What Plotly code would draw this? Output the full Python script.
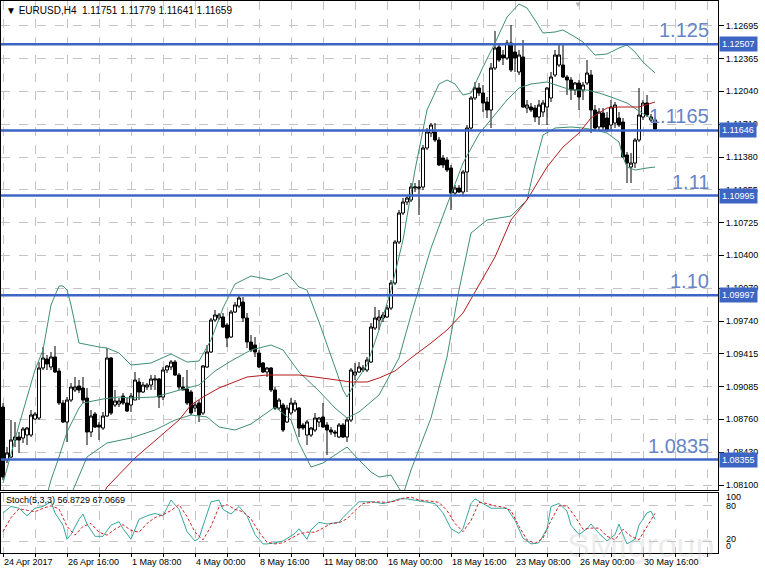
import plotly.graph_objects as go

W, H = 765, 570

# EURUSD H4, bar 0 = 24 Apr 2017 00:00 (bar index used as x)
opens = [
    1.0888, 1.0835, 1.0838, 1.0855, 1.0858, 1.0857, 1.0860, 1.0860, 1.0876, 1.0877,
    1.0927, 1.0936, 1.0928, 1.0938, 1.0924, 1.0892, 1.0873, 1.0895, 1.0905, 1.0909,
    1.0907, 1.0897, 1.0863, 1.0881, 1.0870, 1.0867, 1.0879, 1.0937, 1.0890, 1.0891,
    1.0899, 1.0892, 1.0890, 1.0895, 1.0913, 1.0903, 1.0908, 1.0910, 1.0915, 1.0916,
    1.0898, 1.0925, 1.0928, 1.0933, 1.0920, 1.0908, 1.0906, 1.0903, 1.0887, 1.0892,
    1.0882, 1.0928, 1.0943, 1.0975, 1.0977, 1.0978, 1.0970, 1.0958, 1.0983, 1.0989,
    1.0993, 1.0977, 1.0953, 1.0950, 1.0942, 1.0932, 1.0923, 1.0927, 1.0905, 1.0887,
    1.0890, 1.0873, 1.0882, 1.0885, 1.0887, 1.0870, 1.0860, 1.0860, 1.0865, 1.0873,
    1.0878, 1.0870, 1.0865, 1.0863, 1.0858, 1.0870, 1.0858, 1.0875, 1.0920, 1.0923,
    1.0925, 1.0925, 1.0933, 1.0967, 1.0975, 1.0977, 1.0978, 1.0987, 1.1012, 1.1053,
    1.1082, 1.1093, 1.1095, 1.1107, 1.1108, 1.1108, 1.1147, 1.1162, 1.1163, 1.1155,
    1.1137, 1.1135, 1.1127, 1.1102, 1.1107, 1.1103, 1.1123, 1.1167, 1.1197, 1.1207,
    1.1202, 1.1193, 1.1185, 1.1227, 1.1248, 1.1240, 1.1237, 1.1252, 1.1243, 1.1223,
    1.1238, 1.1187, 1.1188, 1.1187, 1.1178, 1.1183, 1.1188, 1.1197, 1.1220, 1.1230,
    1.1230, 1.1218, 1.1215, 1.1205, 1.1212, 1.1205, 1.1212, 1.1220, 1.1185, 1.1168,
    1.1182, 1.1177, 1.1170, 1.1172, 1.1177, 1.1173, 1.1140, 1.1128, 1.1132, 1.1155,
    1.1178, 1.1192, 1.1175, 1.11751,
]
highs = [
    1.0892, 1.0848, 1.0875, 1.0873, 1.0863, 1.0868, 1.0868, 1.0885, 1.0883, 1.0933,
    1.0948, 1.0940, 1.0943, 1.0949, 1.0927, 1.0895, 1.0898, 1.0912, 1.0918, 1.0915,
    1.0918, 1.0907, 1.0885, 1.0883, 1.0873, 1.0883, 1.0947, 1.0938, 1.0905, 1.0897,
    1.0902, 1.0897, 1.0902, 1.0923, 1.0917, 1.0913, 1.0912, 1.0920, 1.0920, 1.0917,
    1.0928, 1.0930, 1.0935, 1.0935, 1.0922, 1.0918, 1.0925, 1.0905, 1.0893, 1.0895,
    1.0930, 1.0950, 1.0977, 1.0985, 1.0982, 1.0982, 1.0972, 1.0985, 1.0993, 1.0999,
    1.0998, 1.0982, 1.0960, 1.0958, 1.0945, 1.0933, 1.0928, 1.0928, 1.0908, 1.0897,
    1.0892, 1.0890, 1.0897, 1.0895, 1.0888, 1.0872, 1.0875, 1.0868, 1.0882, 1.0878,
    1.0892, 1.0873, 1.0868, 1.0865, 1.0872, 1.0872, 1.0878, 1.0927, 1.0932, 1.0933,
    1.0930, 1.0938, 1.0972, 1.0988, 1.0985, 1.0983, 1.0990, 1.1015, 1.1055, 1.1085,
    1.1097, 1.1100, 1.1112, 1.1112, 1.1115, 1.1150, 1.1167, 1.1172, 1.1172, 1.1158,
    1.1140, 1.1138, 1.1130, 1.1110, 1.1110, 1.1125, 1.1170, 1.1199, 1.1213, 1.1212,
    1.1210, 1.1198, 1.1232, 1.1264, 1.1252, 1.1245, 1.1255, 1.1270, 1.1250, 1.1245,
    1.1255, 1.1195, 1.1192, 1.1190, 1.1195, 1.1195, 1.1208, 1.1223, 1.1245, 1.1252,
    1.1252, 1.1220, 1.1218, 1.1213, 1.1215, 1.1213, 1.1235, 1.1225, 1.1190, 1.1187,
    1.1187, 1.1183, 1.1195, 1.1193, 1.1183, 1.1177, 1.1143, 1.1142, 1.1157, 1.1207,
    1.1195, 1.1200, 1.1181, 1.11779,
]
lows = [
    1.0815, 1.0832, 1.0837, 1.0848, 1.0842, 1.0852, 1.0850, 1.0858, 1.0875, 1.0875,
    1.0925, 1.0925, 1.0925, 1.0922, 1.0890, 1.0872, 1.0853, 1.0893, 1.0903, 1.0902,
    1.0892, 1.0850, 1.0858, 1.0867, 1.0855, 1.0865, 1.0878, 1.0880, 1.0888, 1.0888,
    1.0890, 1.0883, 1.0883, 1.0895, 1.0895, 1.0902, 1.0905, 1.0905, 1.0905, 1.0887,
    1.0895, 1.0922, 1.0925, 1.0919, 1.0905, 1.0905, 1.0890, 1.0880, 1.0883, 1.0873,
    1.0880, 1.0927, 1.0942, 1.0973, 1.0975, 1.0967, 1.0948, 1.0957, 1.0982, 1.0987,
    1.0973, 1.0947, 1.0943, 1.0938, 1.0927, 1.0922, 1.0918, 1.0903, 1.0885, 1.0885,
    1.0863, 1.0872, 1.0880, 1.0883, 1.0858, 1.0865, 1.0850, 1.0858, 1.0863, 1.0868,
    1.0867, 1.0840, 1.0860, 1.0858, 1.0857, 1.0857, 1.0853, 1.0873, 1.0915, 1.0922,
    1.0923, 1.0923, 1.0932, 1.0965, 1.0965, 1.0973, 1.0977, 1.0985, 1.1010, 1.1051,
    1.1080, 1.1090, 1.1093, 1.1103, 1.1080, 1.1105, 1.1145, 1.1158, 1.1153, 1.1129,
    1.1127, 1.1123, 1.1085, 1.1099, 1.1102, 1.1100, 1.1103, 1.1165, 1.1195, 1.1199,
    1.1183, 1.1177, 1.1167, 1.1225, 1.1233, 1.1230, 1.1235, 1.1223, 1.1223, 1.1220,
    1.1187, 1.1182, 1.1183, 1.1173, 1.1170, 1.1178, 1.1170, 1.1193, 1.1218, 1.1228,
    1.1217, 1.1200, 1.1195, 1.1200, 1.1185, 1.1195, 1.1210, 1.1162, 1.1165, 1.1165,
    1.1165, 1.1163, 1.1165, 1.1167, 1.1168, 1.1137, 1.1112, 1.1112, 1.1127, 1.1153,
    1.1175, 1.1178, 1.1173, 1.11641,
]
closes = [
    1.0818, 1.0842, 1.0855, 1.0858, 1.0855, 1.0866, 1.0867, 1.0880, 1.0881, 1.0927,
    1.0937, 1.0931, 1.0938, 1.0923, 1.0892, 1.0873, 1.0895, 1.0908, 1.0908, 1.0905,
    1.0895, 1.0863, 1.0879, 1.0868, 1.0868, 1.0879, 1.0937, 1.0882, 1.0894, 1.0894,
    1.0892, 1.0884, 1.0899, 1.0915, 1.0903, 1.0910, 1.0910, 1.0916, 1.0916, 1.0898,
    1.0925, 1.0929, 1.0933, 1.0920, 1.0908, 1.0905, 1.0892, 1.0882, 1.0890, 1.0880,
    1.0929, 1.0943, 1.0975, 1.0980, 1.0980, 1.0968, 1.0957, 1.0983, 1.0990, 1.0997,
    1.0977, 1.0953, 1.0945, 1.0943, 1.0928, 1.0923, 1.0927, 1.0905, 1.0887, 1.0895,
    1.0865, 1.0887, 1.0892, 1.0892, 1.0867, 1.0867, 1.0873, 1.0867, 1.0877, 1.0877,
    1.0868, 1.0865, 1.0863, 1.0862, 1.0870, 1.0858, 1.0875, 1.0925, 1.0923, 1.0928,
    1.0927, 1.0935, 1.0968, 1.0977, 1.0978, 1.0980, 1.0987, 1.1012, 1.1053, 1.1082,
    1.1093, 1.1097, 1.1108, 1.1108, 1.1107, 1.1147, 1.1163, 1.1170, 1.1155, 1.1130,
    1.1130, 1.1125, 1.1102, 1.1107, 1.1103, 1.1123, 1.1167, 1.1197, 1.1207, 1.1202,
    1.1192, 1.1185, 1.1227, 1.1247, 1.1235, 1.1237, 1.1252, 1.1225, 1.1237, 1.1240,
    1.1188, 1.1190, 1.1185, 1.1178, 1.1190, 1.1192, 1.1207, 1.1218, 1.1240, 1.1240,
    1.1218, 1.1215, 1.1205, 1.1212, 1.1198, 1.1210, 1.1222, 1.1185, 1.1167, 1.1183,
    1.1168, 1.1165, 1.1188, 1.1190, 1.1170, 1.1138, 1.1132, 1.1132, 1.1155, 1.1180,
    1.1192, 1.1180, 1.1178, 1.11659,
]
bars = list(range(len(closes)))

# Bollinger bands and moving average at sample bars
bb_up_bar = [0, 4, 8, 10, 12, 14, 15, 16, 17, 19, 24, 26, 29, 32, 37, 42, 46, 49, 52, 55,
             58, 62, 67, 71, 74, 76, 79, 82, 85, 86, 88, 91, 94, 97, 100, 103, 106, 109, 111, 113,
             115, 117, 120, 123, 126, 129, 131, 133, 135, 138, 140, 143, 145, 148, 151, 154, 156, 158, 160, 163]
bb_up = [1.0812, 1.0870, 1.0925, 1.0945, 1.0990, 1.1009, 1.1009, 1.1005, 1.0990, 1.0952,
         1.0948, 1.0947, 1.0942, 1.0930, 1.0932, 1.0941, 1.0933, 1.0934, 1.0955, 1.0987,
         1.1011, 1.1019, 1.1015, 1.1022, 1.1008, 1.1005, 1.0973, 1.0939, 1.0905, 1.0898,
         1.0912, 1.0930, 1.0965, 1.1005, 1.1055, 1.1125, 1.1185, 1.1211, 1.1215, 1.1211,
         1.1200, 1.1202, 1.1228, 1.1252, 1.1278, 1.1291, 1.1287, 1.1275, 1.1262, 1.1263,
         1.1265, 1.1258, 1.1253, 1.1240, 1.1241, 1.1247, 1.1250, 1.1243, 1.1233, 1.1222]
bb_mid_bar = [11, 12, 14, 16, 19, 20, 25, 29, 32, 38, 46, 49, 53, 57, 62, 67, 70, 74, 79, 83,
              86, 89, 94, 99, 102, 107, 111, 115, 119, 122, 126, 129, 132, 136, 139, 142, 146, 149, 152, 156,
              159, 163]
bb_mid = [1.0800, 1.0815, 1.0838, 1.0863, 1.0887, 1.0892, 1.0896, 1.0898, 1.0897, 1.0898,
          1.0907, 1.0910, 1.0924, 1.0934, 1.0945, 1.0950, 1.0945, 1.0923, 1.0904, 1.0887,
          1.0877, 1.0883, 1.0900, 1.0937, 1.0980, 1.1047, 1.1090, 1.1132, 1.1161, 1.1176,
          1.1195, 1.1207, 1.1211, 1.1213, 1.1209, 1.1205, 1.1205, 1.1202, 1.1198, 1.1192,
          1.1184, 1.1174]
bb_lo_bar = [17, 18, 21, 26, 32, 38, 43, 47, 51, 54, 58, 62, 68, 72, 74, 77, 80, 83, 86, 89,
             92, 94, 97, 100, 102, 107, 111, 114, 117, 121, 124, 127, 131, 133, 135, 138, 142, 145, 148, 151,
             154, 155, 156, 158, 161, 163]
bb_lo = [1.0800, 1.0810, 1.0838, 1.0852, 1.0857, 1.0865, 1.0875, 1.0880, 1.0878, 1.0868,
         1.0865, 1.0871, 1.0888, 1.0875, 1.0852, 1.0828, 1.0832, 1.0840, 1.0848, 1.0835,
         1.0823, 1.0818, 1.0820, 1.0800, 1.0825, 1.0877, 1.0938, 1.1005, 1.1062, 1.1075,
         1.1077, 1.1079, 1.1095, 1.1130, 1.1160, 1.1167, 1.1168, 1.1167, 1.1165, 1.1162,
         1.1153, 1.1138, 1.1128, 1.1125, 1.1127, 1.1128]
ma_bar = [25, 26, 33, 39, 44, 47, 50, 54, 58, 61, 66, 70, 74, 78, 83, 87, 91, 94, 98, 102,
          107, 111, 115, 118, 123, 127, 131, 136, 140, 144, 147, 151, 154, 159, 163]
ma = [1.0800, 1.0808, 1.0837, 1.0858, 1.0875, 1.0890, 1.0898, 1.0907, 1.0913, 1.0918,
      1.0920, 1.0920, 1.0920, 1.0918, 1.0915, 1.0913, 1.0913, 1.0917, 1.0924, 1.0937,
      1.0952, 1.0965, 1.0982, 1.1003, 1.1038, 1.1075, 1.1095, 1.1128, 1.1148, 1.1162,
      1.1177, 1.1187, 1.1188, 1.1188, 1.1193]

# Stochastic (5,3,3)
st_bar = [0, 2, 4, 6, 8, 10, 12, 13, 15, 16, 17, 19, 20, 21, 23, 25, 27, 29, 30, 32,
          34, 36, 38, 40, 42, 44, 46, 48, 49, 52, 54, 55, 57, 59, 61, 63, 65, 66, 68, 70,
          73, 74, 76, 77, 79, 81, 84, 85, 87, 89, 92, 95, 97, 99, 101, 103, 106, 108, 110, 112,
          114, 115, 117, 118, 120, 122, 124, 126, 128, 130, 132, 134, 136, 137, 139, 141, 142, 144, 146, 147,
          149, 151, 153, 154, 155, 156, 158, 159, 161, 162, 163]
st_main = [68, 79, 76, 63, 76, 79, 87, 68, 47, 23, 31, 57, 66, 49, 28, 28, 47, 53, 41, 23,
           57, 63, 67, 63, 90, 74, 36, 20, 25, 87, 90, 74, 66, 79, 63, 31, 15, 15, 17, 20,
           33, 41, 23, 39, 52, 49, 52, 60, 74, 87, 87, 84, 87, 92, 92, 90, 87, 84, 68, 41,
           33, 41, 84, 92, 84, 76, 76, 76, 55, 25, 15, 17, 41, 79, 84, 71, 47, 31, 41, 49,
           33, 20, 31, 49, 31, 15, 23, 47, 68, 71, 56.87]
sg_bar = [0, 2, 4, 6, 8, 10, 12, 14, 16, 18, 20, 22, 24, 26, 28, 30, 32, 34, 36, 38,
          40, 42, 44, 46, 48, 50, 52, 54, 56, 58, 60, 62, 64, 66, 68, 70, 72, 74, 76, 78,
          80, 82, 84, 86, 88, 90, 93, 96, 98, 100, 102, 104, 107, 109, 111, 113, 115, 117, 119, 121,
          123, 125, 127, 129, 131, 133, 135, 137, 139, 141, 143, 145, 147, 149, 151, 153, 155, 157, 159, 161,
          163]
st_signal = [36, 60, 75, 72, 70, 76, 80, 75, 45, 30, 45, 50, 35, 30, 40, 48, 38, 35, 50, 60,
             65, 72, 82, 62, 35, 22, 45, 78, 82, 74, 70, 58, 35, 18, 15, 17, 24, 32, 35, 35,
             42, 50, 51, 58, 72, 84, 87, 86, 88, 93, 95, 90, 88, 86, 72, 50, 36, 55, 86, 84,
             80, 78, 72, 45, 22, 16, 25, 55, 80, 80, 62, 40, 42, 42, 28, 22, 40, 28, 22, 45,
             67.07]

price_ticks = [1.12695, 1.12365, 1.12040, 1.11710, 1.11380, 1.11055, 1.10725, 1.10400,
               1.10070, 1.09740, 1.09415, 1.09085, 1.08760, 1.08430, 1.08100]
levels = [1.12507, 1.11646, 1.10995, 1.09997, 1.08355]
level_names = ["1.125", "1.1165", "1.11", "1.10", "1.0835"]
date_bars = [0, 16, 32, 48, 64, 80, 96, 112, 128, 144, 160]
date_labels = ["24 Apr 2017", "26 Apr 16:00", "1 May 08:00", "4 May 00:00", "8 May 16:00",
               "11 May 08:00", "16 May 00:00", "18 May 16:00", "23 May 08:00",
               "26 May 00:00", "30 May 16:00"]

LEVEL_BLUE = "#3d66c4"
BAND = "#3f8f72"
GRID = "#c4c4c4"
FONT = "Liberation Sans"


def px(x):
    return x / W


def py(y):
    return 1 - y / H


fig = go.Figure()

fig.add_trace(go.Candlestick(
    x=bars, open=opens, high=highs, low=lows, close=closes,
    increasing=dict(line=dict(color="black", width=1), fillcolor="white"),
    decreasing=dict(line=dict(color="black", width=1), fillcolor="black"),
    whiskerwidth=0, showlegend=False, hoverinfo="skip",
))
for bx, vals, col in [(bb_up_bar, bb_up, BAND), (bb_mid_bar, bb_mid, BAND),
                      (bb_lo_bar, bb_lo, BAND), (ma_bar, ma, "#b31b1b")]:
    fig.add_trace(go.Scatter(x=bx, y=vals, mode="lines", line=dict(color=col, width=1),
                             showlegend=False, hoverinfo="skip"))

fig.add_trace(go.Scatter(x=st_bar, y=st_main, mode="lines", xaxis="x2", yaxis="y2",
                         line=dict(color="#36a7a2", width=1), showlegend=False))
fig.add_trace(go.Scatter(x=sg_bar, y=st_signal, mode="lines", xaxis="x2", yaxis="y2",
                         line=dict(color="#d02424", width=1, dash="3px,2px"), showlegend=False))

grid_bars = list(range(0, 180, 8))
x_dom = [px(1), px(718)]
x_range = [-0.5, 178.75]

fig.update_layout(
    width=W, height=H,
    margin=dict(l=0, r=0, t=0, b=0),
    paper_bgcolor="white", plot_bgcolor="white",
    font=dict(family=FONT, size=9, color="black"),
    showlegend=False,
    boxgap=0.2, boxgroupgap=0.05,
    xaxis=dict(domain=x_dom, range=x_range, rangeslider=dict(visible=False),
               tickvals=grid_bars, showticklabels=False, ticks="",
               showgrid=True, gridcolor=GRID, griddash="dash", gridwidth=1,
               showline=True, mirror=True, linecolor="black", linewidth=1, zeroline=False),
    yaxis=dict(domain=[py(490), py(1)], range=[1.0805, 1.1294], side="right",
               tickvals=price_ticks, tickformat=".5f", ticks="outside", ticklen=5,
               tickcolor="black", tickfont=dict(size=9),
               showgrid=True, gridcolor=GRID, griddash="dash", gridwidth=1,
               showline=True, mirror=True, linecolor="black", linewidth=1, zeroline=False),
    xaxis2=dict(domain=x_dom, range=x_range, anchor="y2", matches="x",
                tickvals=grid_bars,
                ticktext=[date_labels[date_bars.index(b)] if b in date_bars else "" for b in grid_bars],
                ticklabelposition="outside right", ticks="outside", ticklen=3, tickcolor="black",
                tickfont=dict(size=9),
                showgrid=True, gridcolor=GRID, griddash="dash", gridwidth=1,
                showline=True, mirror=True, linecolor="black", linewidth=1, zeroline=False),
    yaxis2=dict(domain=[py(553), py(493)], range=[-0.5, 102], side="right", anchor="x2",
                tickvals=[20, 80], showticklabels=False, ticks="",
                showgrid=True, gridcolor=GRID, griddash="dash", gridwidth=1,
                showline=True, mirror=True, linecolor="black", linewidth=1, zeroline=False),
)

for lv, name in zip(levels, level_names):
    fig.add_shape(type="line", xref="x domain", x0=0, x1=1, yref="y", y0=lv, y1=lv,
                  line=dict(color=LEVEL_BLUE, width=2.5), layer="above")
    fig.add_annotation(xref="paper", x=px(711), yref="y", y=lv, text=name,
                       xanchor="right", yanchor="bottom", yshift=1, showarrow=False,
                       font=dict(family=FONT, size=20, color="#6585c8"))
    fig.add_annotation(xref="paper", x=px(719), yref="y", y=lv, text="%.5f" % lv,
                       xanchor="left", yanchor="middle", showarrow=False,
                       bgcolor=LEVEL_BLUE, borderpad=2,
                       font=dict(family=FONT, size=9, color="white"))

fig.add_annotation(xref="paper", yref="paper", x=px(4), y=py(10),
                   text="\u25bc EURUSD,H4&nbsp; 1.11751 1.11779 1.11641 1.11659",
                   xanchor="left", yanchor="middle", showarrow=False,
                   font=dict(family=FONT, size=10, color="black"))
fig.add_annotation(xref="paper", yref="paper", x=px(4), y=py(500),
                   text="Stoch(5,3,3) 56.8729 67.0669",
                   xanchor="left", yanchor="middle", showarrow=False,
                   font=dict(family=FONT, size=9, color="black"))
for lab, yy in [("100", 497), ("80", 506), ("20", 539), ("0", 546)]:
    fig.add_annotation(xref="paper", yref="paper", x=px(724), y=py(yy), text=lab,
                       xanchor="left", yanchor="middle", showarrow=False,
                       font=dict(family=FONT, size=9, color="black"))
fig.add_annotation(xref="paper", yref="paper", x=px(578), y=py(4), text="\u25bc",
                   xanchor="center", yanchor="middle", showarrow=False,
                   font=dict(size=8, color="#b0b0b0"))
fig.add_annotation(xref="paper", yref="paper", x=px(640), y=py(545), text="SMIgroup",
                   xanchor="center", yanchor="middle", showarrow=False,
                   font=dict(family=FONT, size=34, color="rgba(190,190,190,0.28)"))

# the page body has a default 8px margin; remove it so the chart fills the window
fig.write_html("out.html", config={"displayModeBar": False},
               post_script="document.body.style.margin='0';")
